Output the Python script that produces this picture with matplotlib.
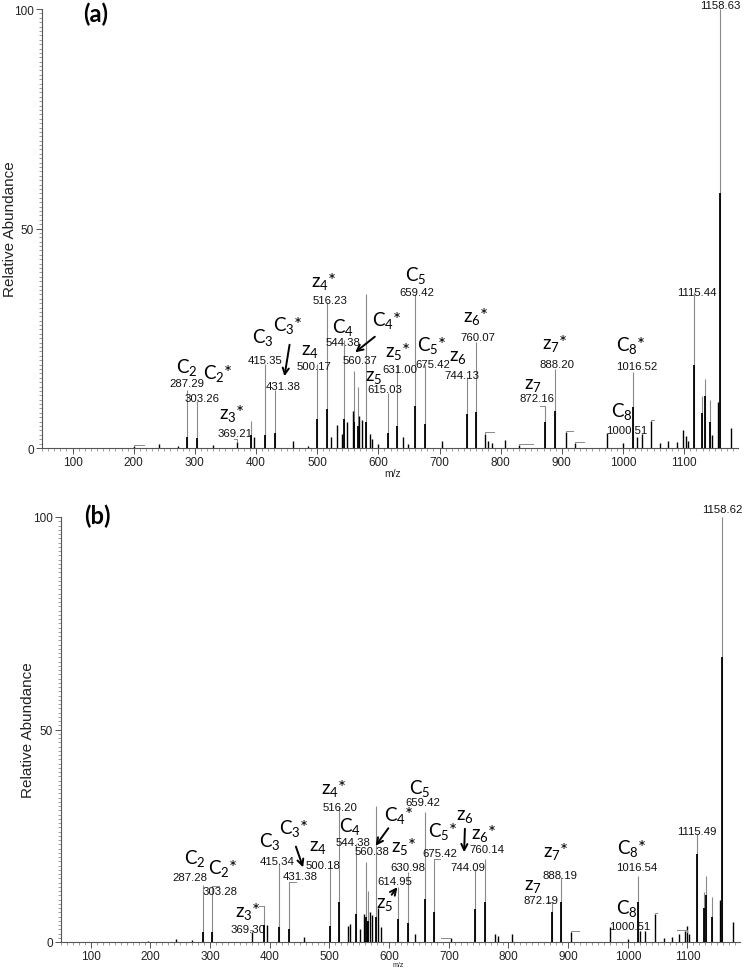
import matplotlib

matplotlib.use("Agg")

import matplotlib.pyplot as plt
from matplotlib.patches import FancyArrowPatch
from matplotlib.ticker import MultipleLocator

W, H = 745, 970

# ---------------- panel (a) ----------------
# sticks with a thin profile apex (top) and a dark core (core)
a_mz = [287.29, 303.26, 392.4, 415.35, 431.38, 500.17, 516.23, 544.38, 560.37,
        566.0, 580.0, 615.03, 631.00, 659.42, 675.42, 744.13, 760.07, 872.16,
        888.20, 1016.52, 1115.44, 1129.8, 1134.2, 1142.4, 1158.63]
a_top = [13.3, 10.8, 6.2, 19.1, 13.3, 19.2, 33.3, 24.5, 17.6,
         13.9, 35.0, 12.5, 18.7, 35.0, 19.0, 16.1, 24.1, 9.6,
         18.0, 17.3, 35.5, 11.9, 15.7, 10.9, 100.0]
a_core = [2.5, 2.2, 3.0, 3.0, 3.5, 6.5, 8.9, 6.5, 6.0,
          5.0, 6.0, 3.5, 5.0, 9.6, 5.5, 7.7, 8.2, 5.9,
          8.4, 9.3, 19.0, 8.0, 11.8, 6.0, 58.0]
# small peaks
a_minor_mz = [200, 242, 273, 329, 369.21, 397, 460, 485, 522, 532, 540, 549,
              558.5, 569, 573, 587, 590, 600, 641, 648, 704, 775, 780, 786,
              807, 830, 906.6, 921.7, 973.6, 1000.51, 1022.6, 1030.8, 1046,
              1061, 1074, 1088, 1098.8, 1103, 1107, 1145, 1155, 1176]
a_minor_h = [0.5, 0.9, 0.5, 0.6, 1.3, 2.5, 1.7, 0.5, 2.5, 5.2, 3.2, 5.9,
             8.5, 7.4, 6.4, 3.2, 2.0, 0.8, 2.5, 1.0, 1.7, 3.2, 1.5, 1.2,
             1.8, 0.6, 3.6, 1.1, 3.4, 1.2, 2.5, 3.2, 6.2,
             1.1, 1.7, 1.3, 4.0, 2.8, 1.7, 3.0, 10.5, 4.6]
a_ann_mz = [287.29, 303.26, 369.21, 415.35, 431.38, 500.17, 516.23, 544.38,
            560.37, 615.03, 631.00, 659.42, 675.42, 744.13, 760.07, 872.16,
            888.20, 1000.51, 1016.52, 1115.44, 1158.63]

# ---------------- panel (b) ----------------
b_mz = [287.28, 303.28, 389.8, 415.34, 431.38, 500.18, 516.20, 544.38, 560.38,
        564.5, 578.6, 614.95, 630.98, 659.42, 675.42, 744.09, 760.14, 872.19,
        888.19, 1016.54, 1115.49, 1128.5, 1131.0, 1141.0, 1158.62]
b_top = [13.4, 13.2, 8.5, 18.7, 14.1, 17.6, 31.7, 23.0, 18.8,
         12.1, 32.1, 12.9, 16.5, 30.5, 19.5, 17.2, 19.5, 9.3,
         15.2, 15.6, 25.4, 11.7, 15.5, 10.5, 100.0]
b_core = [2.3, 2.3, 4.0, 3.5, 3.0, 3.8, 9.3, 6.6, 6.0,
          5.0, 6.0, 5.4, 4.5, 10.1, 7.0, 7.8, 9.4, 7.0,
          9.4, 9.4, 20.7, 8.0, 11.0, 6.0, 67.0]
b_minor_mz = [195, 242.6, 270, 369.30, 395.4, 458, 530.8, 533.7, 550.5, 557.8,
              563.5, 568.5, 572, 580.8, 587, 643, 703, 777.5, 783, 805.3, 905,
              970.5, 1000.51, 1020.8, 1029.3, 1046, 1060, 1074, 1085, 1096.4,
              1099, 1103, 1155, 1176]
b_minor_h = [0.3, 0.7, 0.5, 2.3, 4.1, 1.2, 3.8, 4.2, 3.0, 6.6,
             5.0, 7.0, 6.3, 8.0, 3.5, 1.9, 1.0, 1.9, 1.3, 1.9, 2.3,
             3.5, 0.7, 2.5, 2.7, 6.6, 1.0, 1.2, 1.9, 2.7,
             3.8, 2.0, 10.0, 4.6]
b_ann_mz = [287.28, 303.28, 369.30, 415.34, 431.38, 500.18, 516.20, 544.38,
            560.38, 614.95, 630.98, 659.42, 675.42, 744.09, 760.14, 872.19,
            888.19, 1000.51, 1016.54, 1115.49, 1158.62]

ions = ["C2", "C2*", "z3*", "C3", "C3*", "z4", "z4*", "C4", "C4*", "z5", "z5*",
        "C5", "C5*", "z6", "z6*", "z7", "z7*", "C8", "C8*"]

# ---------------- layout (pixel centres in the 745x970 figure) -------------
a_val_px = [(187, 384), (202, 399), (235, 434), (265, 361), (283, 387),
            (314, 367), (330, 301), (343, 343), (360, 361), (385, 390),
            (400, 370), (417, 293), (433, 365), (462, 376), (478, 338),
            (537, 399), (557, 365), (627, 431), (637, 367), (697, 293),
            (720, 6)]
a_ion_px = [(187, 367), (218, 374), (232, 413), (263, 338), (288, 326),
            (310, 352), (324, 281), (343, 328), (387, 321), (374, 378),
            (398, 352), (416, 275), (432, 346), (458, 358), (476, 317),
            (533, 386), (555, 344), (622, 412), (631, 346)]
a_arrows = [((290, 343), (284, 380)), ((377, 336), (353, 355))]

b_val_px = [(190, 878), (220, 892), (248, 930), (277, 862), (300, 877),
            (323, 866), (340, 808), (353, 843), (372, 852), (395, 882),
            (408, 868), (423, 803), (440, 854), (468, 868), (487, 850),
            (541, 901), (560, 876), (630, 927), (637, 868), (697, 832),
            (722, 510)]
b_ion_px = [(195, 859), (223, 869), (248, 912), (270, 842), (294, 829),
            (318, 848), (334, 789), (350, 827), (399, 816), (385, 905),
            (404, 847), (420, 789), (443, 832), (465, 817), (484, 834),
            (533, 887), (556, 852), (627, 909), (632, 849)]
b_arrows = [((295, 845), (304, 871)), ((390, 827), (374, 849)),
            ((390, 898), (399, 886)), ((465, 827), (464, 856))]

# gray label leaders: (mz, height, dx px, dy px)
a_leaders = [(369.21, 1.3, -3, 3), (775, 3.2, 9, 2), (906.6, 3.6, 7, 1),
             (921.7, 1.1, 9, 1), (1046, 6.2, 3, 1), (200, 0.5, 10, 1),
             (830, 0.6, 14, 1), (872.16, 9.6, -5, 0)]
b_leaders = [(303.28, 13.2, 7, 0), (431.38, 14.1, 7, 0), (675.42, 19.5, 6, 0),
             (872.19, 9.3, -5, 0), (369.30, 2.3, -2, 2), (389.8, 8.5, -5, 0),
             (905, 2.3, 8, 1), (1099, 2.4, -10, 2), (1046, 6.6, 2, 1),
             (703, 1.0, -10, 0)]

VAL_FONT = "Liberation Sans"
ION_FONT = "Lato"


def fp(p):
    return (p[0] / W, 1 - p[1] / H)


def ion_tex(name):
    star = "*" if name.endswith("*") else ""
    num = name[1:].rstrip("*")
    return r"$\mathregular{%s_{%s}}$%s" % (name[0], num, star)


def draw_panel(fig, rect, mz, top, core, minor_mz, minor_h, ann_mz, val_px,
               ion_px, arrows, leaders, tag, tag_px, ylab_x, mz_lab, mz_size):
    ax = fig.add_axes(rect)
    ax.vlines(mz, 0, top, color="#8a8a8a", lw=0.8)
    ax.vlines(mz, 0, core, color="black", lw=1.3)
    ax.vlines(minor_mz, 0, minor_h, color="black", lw=1.0)
    ax.set_xlim(50, 1188)
    ax.set_ylim(0, 100)
    for s in ("top", "right"):
        ax.spines[s].set_visible(False)
    for s in ("left", "bottom"):
        ax.spines[s].set_color("#555555")
        ax.spines[s].set_linewidth(0.8)
    ax.set_xticks(range(100, 1101, 100))
    ax.set_yticks([0, 50, 100])
    ax.xaxis.set_minor_locator(MultipleLocator(10))
    ax.yaxis.set_minor_locator(MultipleLocator(1))
    ax.tick_params(which="major", length=4, width=0.7, color="#555555",
                   labelsize=8.5, labelcolor="#222222", pad=2)
    ax.tick_params(which="minor", length=2, width=0.5, color="#777777")
    for lab in ax.get_xticklabels() + ax.get_yticklabels():
        lab.set_fontfamily(VAL_FONT)

    for m, h, dx, dy in leaders:
        x0, y0 = ax.transData.transform((m, h))
        pts = [(x0, y0), (x0, y0 + dy), (x0 + dx, y0 + dy)]
        xs, ys = zip(*[fig.transFigure.inverted().transform(p) for p in pts])
        fig.add_artist(plt.Line2D(xs, ys, color="#8a8a8a", lw=0.7,
                                  transform=fig.transFigure))

    for m, p in zip(ann_mz, val_px):
        fig.text(*fp(p), f"{m:.2f}", family=VAL_FONT, fontsize=8.2,
                 ha="center", va="center", color="#111111")
    for name, p in zip(ions, ion_px):
        fig.text(*fp(p), ion_tex(name), family=ION_FONT, fontsize=13.5,
                 ha="center", va="center", color="black")
    for a, b in arrows:
        fig.add_artist(FancyArrowPatch(fp(a), fp(b), transform=fig.transFigure,
                                       arrowstyle="->", mutation_scale=11,
                                       lw=1.4, color="black"))
    fig.text(*fp(tag_px), tag, family=ION_FONT, fontweight="bold",
             fontsize=17, ha="center", va="center")
    fig.text(ylab_x / W, rect[1] + rect[3] / 2, "Relative Abundance",
             family=VAL_FONT, fontsize=11, rotation=90, ha="center",
             va="center", color="#222222")
    fig.text(*fp(mz_lab), "m/z", family=VAL_FONT, fontsize=mz_size,
             ha="center", va="center", color="#222222")
    return ax


fig = plt.figure(figsize=(W / 100, H / 100), dpi=100)
draw_panel(fig, [42 / W, 1 - 449 / H, 696 / W, 439 / H],
           a_mz, a_top, a_core, a_minor_mz, a_minor_h, a_ann_mz,
           a_val_px, a_ion_px, a_arrows, a_leaders,
           "(a)", (96, 14), 10, (393, 474), 7.5)
draw_panel(fig, [61 / W, 1 - 943 / H, 679 / W, 425 / H],
           b_mz, b_top, b_core, b_minor_mz, b_minor_h, b_ann_mz,
           b_val_px, b_ion_px, b_arrows, b_leaders,
           "(b)", (97, 516), 28, (398, 966), 5)
fig.savefig("out.png", dpi=100)
